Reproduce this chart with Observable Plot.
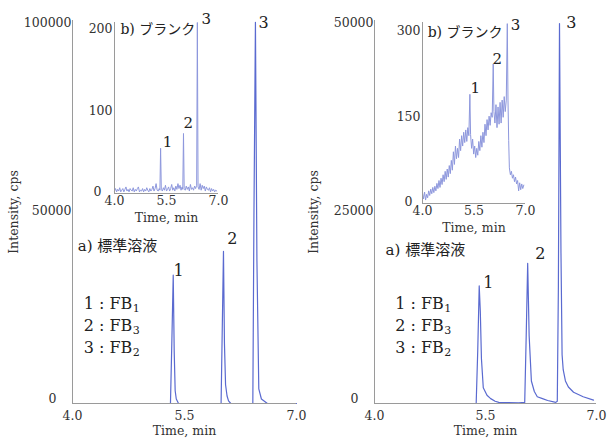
<!DOCTYPE html>
<html><head><meta charset="utf-8">
<script src="https://cdn.jsdelivr.net/npm/d3@7"></script>
<script src="https://cdn.jsdelivr.net/npm/@observablehq/plot@0.6"></script>
<style>
html,body{margin:0;padding:0;background:#fff;}
#wrap{position:relative;width:607px;height:439px;overflow:hidden;background:#fff;}
#wrap > div{position:absolute;}
#wrap svg{overflow:visible;background:transparent;max-width:none;}
</style></head><body><div id="wrap"></div>
<script>
// ---------------- data ----------------
const timeTicks = [4.0, 5.5, 7.0];
const peakNames = ["1", "2", "3"];
const legendNumbers = ["1", "2", "3"];
const legendSubscripts = ["1", "3", "2"];
const legendCompound = "FB";
const labelA = "a) 標準溶液";
const labelB = "b) ブランク";
const xTitle = "Time, min";
const yTitle = "Intensity, cps";

// left: a) standard solution (cps)
const leftStdTime = [4.00, 5.312, 5.33, 5.349, 5.362, 5.375, 5.39, 5.42, 5.99, 6.005, 6.022, 6.035, 6.05, 6.07, 6.09, 6.12, 6.415, 6.43, 6.45, 6.47, 6.495, 6.53, 6.61, 7.00];
const leftStdValue = [0, 0, 16000, 34200, 14000, 3400, 1200, 0, 0, 19000, 40500, 16000, 5000, 2000, 700, 0, 0, 50000, 101500, 38000, 3900, 1200, 0, 0];
const leftStdYTicks = [50000, 100000];

// left: b) blank (cps)
const leftBlankTime = [4.00,4.03,4.06,4.09,4.12,4.15,4.18,4.21,4.24,4.27,4.30,4.33,4.36,4.39,4.42,4.45,4.48,4.51,4.54,4.57,4.60,4.63,4.66,4.69,4.72,4.75,4.78,4.81,4.84,4.87,4.90,4.93,4.96,4.99,5.02,5.05,5.08,5.11,5.14,5.17,5.20,5.23,5.26,5.29,5.31,5.33,5.35,5.38,5.41,5.44,5.47,5.50,5.53,5.56,5.59,5.62,5.65,5.68,5.71,5.74,5.77,5.80,5.83,5.86,5.89,5.92,5.95,5.97,5.99,6.01,6.04,6.07,6.10,6.13,6.16,6.19,6.22,6.25,6.28,6.31,6.34,6.37,6.39,6.41,6.44,6.47,6.50,6.53,6.56,6.59,6.62,6.65,6.68,6.71,6.74,6.77,6.80,6.83,6.86,6.89,6.92,6.95];
const leftBlankValue = [3,6,2,5,3,7,2,4,6,2,5,8,3,5,2,6,4,3,7,2,5,3,6,8,2,4,3,6,2,5,3,7,4,2,6,3,5,9,3,6,12,4,3,6,4,55,5,3,7,4,10,3,5,8,3,6,11,4,7,3,9,5,12,6,10,4,8,5,73,6,4,9,5,8,3,11,5,7,4,9,6,10,208,8,5,12,4,10,6,9,3,8,5,4,7,2,6,3,5,2,4,3];
const leftBlankYTicks = [100, 200];

// right: a) standard solution (cps)
const rightStdTime = [5.374, 5.395, 5.415, 5.43, 5.445, 5.47, 5.52, 5.57, 5.63, 5.68, 5.80, 5.95, 6.03, 6.05, 6.07, 6.09, 6.12, 6.16, 6.20, 6.27, 6.34, 6.45, 6.47, 6.485, 6.50, 6.52, 6.535, 6.55, 6.58, 6.62, 6.69, 6.82, 6.96];
const rightStdValue = [0, 7000, 15660, 12200, 6000, 2100, 1100, 650, 300, 150, 120, 100, 150, 9000, 18670, 9000, 3000, 1600, 900, 650, 400, 150, 300, 15660, 50600, 20000, 6500, 4500, 3000, 2200, 1500, 900, 450];
const rightStdYTicks = [25000, 50000];

// right: b) blank (cps)
const rightBlankTime = [4.00,4.03,4.06,4.09,4.12,4.15,4.18,4.21,4.24,4.27,4.30,4.33,4.36,4.39,4.42,4.45,4.48,4.51,4.54,4.57,4.60,4.63,4.66,4.69,4.72,4.75,4.78,4.81,4.84,4.87,4.90,4.93,4.96,4.99,5.02,5.05,5.08,5.11,5.14,5.17,5.20,5.23,5.26,5.29,5.32,5.35,5.38,5.40,5.43,5.46,5.49,5.52,5.55,5.58,5.61,5.64,5.67,5.70,5.73,5.76,5.79,5.82,5.85,5.88,5.91,5.94,5.97,6.00,6.03,6.06,6.08,6.11,6.14,6.17,6.20,6.23,6.26,6.29,6.32,6.35,6.38,6.41,6.44,6.47,6.49,6.51,6.53,6.56,6.59,6.62,6.65,6.68,6.71,6.74,6.77,6.80,6.83,6.86,6.89,6.92,6.95];
const rightBlankValue = [18,8,20,6,16,10,22,14,25,17,28,19,30,22,35,26,40,28,44,33,50,38,56,42,60,46,66,52,75,58,90,68,100,78,96,80,112,92,118,100,124,106,128,108,132,118,190,120,96,112,86,100,80,96,84,108,92,118,98,124,106,138,118,146,128,152,136,158,150,243,160,140,172,132,168,138,176,140,180,150,186,160,180,313,180,110,62,50,56,44,50,38,46,34,40,22,36,24,34,26,32];
const rightBlankYTicks = [150, 300];

// ---------------- drawing ----------------
const FONT = "'DejaVu Serif', 'Noto Sans CJK JP', serif";
const MAIN_COLOR = "#5a6ad0";
const INSET_COLOR = "#8d97dd";
const AXIS_COLOR = "#9a9a9a";
const TEXT_COLOR = "#333";
const wrap = document.getElementById("wrap");

function place(node, left, top) {
  const d = document.createElement("div");
  d.style.left = left + "px";
  d.style.top = top + "px";
  d.appendChild(node);
  wrap.appendChild(d);
}
const rows = (ts, vs) => ts.map((t, i) => ({t, v: vs[i]}));
const fmtX = d3.format(".1f");

function mainChart(o) {
  const data = rows(o.time, o.value);
  const legend = legendNumbers.map((n, i) => ({n, sub: legendSubscripts[i], y: o.legendY[i]}));
  const peaks = peakNames.map((p, i) => ({p, x: o.peakX[i], y: o.peakY[i]}));
  return Plot.plot({
    width: o.width, height: 439,
    marginLeft: o.marginLeft, marginRight: o.marginRight, marginTop: 20, marginBottom: 36,
    x: {domain: [4, 7]},
    y: {domain: [0, o.yMax]},
    style: {fontFamily: FONT, fontSize: "12.5px", color: TEXT_COLOR, background: "transparent", overflow: "visible"},
    marks: [
      Plot.line(data, {x: "t", y: "v", stroke: MAIN_COLOR, strokeWidth: 1.2}),
      Plot.ruleY([0], {stroke: AXIS_COLOR}),
      Plot.ruleX([4], {stroke: AXIS_COLOR}),
      Plot.axisX({ticks: timeTicks, tickSize: 0, tickPadding: 8, tickFormat: fmtX, label: xTitle, labelAnchor: "center", labelArrow: "none", labelOffset: 31}),
      Plot.axisY({ticks: o.yTicks, tickSize: 0, tickPadding: 1, dy: -5, tickFormat: d => String(d), label: null}),
      Plot.axisY({ticks: [0], tickSize: 0, tickPadding: 1, dx: o.zeroDx, dy: -5, tickFormat: d => String(d), label: null}),
      Plot.axisY({ticks: [], tickSize: 0, label: yTitle, labelAnchor: "center", labelArrow: "none", labelOffset: o.yLabelOffset}),
      Plot.text([labelA], {x: o.aX, y: o.aY, text: d => d, textAnchor: "start", fontSize: 15, fill: "#222"}),
      Plot.text(peaks, {x: "x", y: "y", text: "p", fontSize: 16, fill: "#222"}),
      Plot.text(legend, {x: o.legendX, y: "y", text: d => d.n + " : " + legendCompound, textAnchor: "start", fontSize: 16, fill: "#222"}),
      Plot.text(legend, {x: o.legendX, y: "y", text: "sub", dx: 49, dy: 5, textAnchor: "start", fontSize: 11, fill: "#222"})
    ]
  });
}

function insetChart(o) {
  const data = rows(o.time, o.value);
  const peaks = peakNames.map((p, i) => ({p, x: o.peakX[i], y: o.peakY[i]}));
  return Plot.plot({
    width: o.width, height: o.height,
    marginLeft: o.marginLeft, marginRight: o.marginRight, marginTop: 22, marginBottom: o.marginBottom,
    x: {domain: [4, 7]},
    y: {domain: [0, o.yMax]},
    style: {fontFamily: FONT, fontSize: "12.5px", color: TEXT_COLOR, background: "transparent", overflow: "visible"},
    marks: [
      Plot.line(data, {x: "t", y: "v", stroke: INSET_COLOR, strokeWidth: 1}),
      Plot.ruleY([0], {stroke: AXIS_COLOR}),
      Plot.ruleX([4], {stroke: AXIS_COLOR}),
      Plot.axisX({ticks: timeTicks, tickSize: 0, tickPadding: 3, tickFormat: fmtX, label: xTitle, labelAnchor: "center", labelArrow: "none", labelOffset: 28}),
      Plot.axisY({ticks: o.yTicks, tickSize: 0, tickPadding: 2, tickFormat: d => String(d), label: null}),
      Plot.axisY({ticks: [0], tickSize: 0, tickPadding: 2, dx: o.zeroDx, dy: -2, tickFormat: d => String(d), label: null}),
      Plot.text([labelB], {x: o.bX, y: o.bY, text: d => d, textAnchor: "start", fontSize: 14, fill: "#222"}),
      Plot.text(peaks, {x: "x", y: "y", text: "p", fontSize: 15, fill: "#222"})
    ]
  });
}

place(mainChart({
  width: 300, marginLeft: 72, marginRight: 4, yMax: 102000,
  time: leftStdTime, value: leftStdValue, yTicks: leftStdYTicks,
  zeroDx: -15, yLabelOffset: 63,
  aX: 4.07, aY: 42000,
  peakX: [5.42, 6.14, 6.56], peakY: [35400, 43900, 101500],
  legendX: 4.15, legendY: [26630, 20770, 14910]
}), 0, 0);

place(mainChart({
  width: 307, marginLeft: 74, marginRight: 11, yMax: 51000,
  time: rightStdTime, value: rightStdValue, yTicks: rightStdYTicks,
  zeroDx: -15, yLabelOffset: 65,
  aX: 4.15, aY: 20380,
  peakX: [5.54, 6.24, 6.66], peakY: [16100, 19980, 50700],
  legendX: 4.28, legendY: [13300, 10390, 7460]
}), 300, 0);

place(insetChart({
  width: 140, height: 230, marginLeft: 30, marginRight: 6, marginBottom: 37, yMax: 208,
  time: leftBlankTime, value: leftBlankValue, yTicks: leftBlankYTicks,
  zeroDx: -11,
  bX: 4.17, bY: 200,
  peakX: [5.53, 6.13, 6.65], peakY: [62, 85, 212]
}), 84, 0);

place(insetChart({
  width: 150, height: 240, marginLeft: 40, marginRight: 7, marginBottom: 37, yMax: 315,
  time: rightBlankTime, value: rightBlankValue, yTicks: rightBlankYTicks,
  zeroDx: -8,
  bX: 4.15, bY: 297,
  peakX: [5.54, 6.18, 6.71], peakY: [200, 252, 310]
}), 382, 0);
</script>
</body></html>
